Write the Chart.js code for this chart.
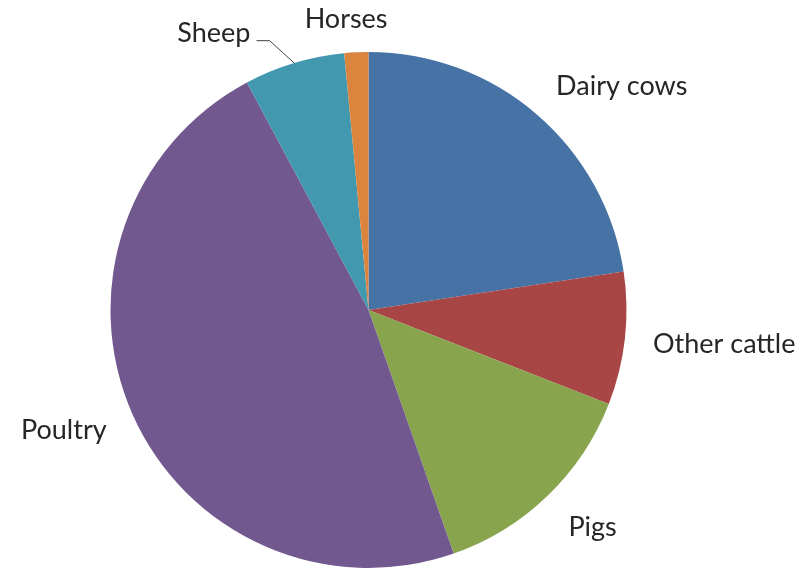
<!DOCTYPE html>
<html>
<head>
<meta charset="utf-8">
<script src="https://cdn.jsdelivr.net/npm/chart.js@4"></script>
<style>
  html,body{margin:0;padding:0;background:#fff;}
  #wrap{width:811px;height:571px;position:relative;}
</style>
</head>
<body>
<div id="wrap"><canvas id="c"></canvas></div>
<script>
/* livestock share - pie, clockwise from 12 o'clock */
const categories=['Dairy cows','Other cattle','Pigs','Poultry','Sheep','Horses'];
const shares=[22.6,8.3,13.7,47.5,6.3,1.5];
const sliceColors=['#4672A6','#A74644','#88A54E','#71588F','#4298AF','#DB843D'];

/* label placement: angle offset (deg) from slice middle, distance in radii */
const labelPlace=[[7.8,1.31],[-0.9,1.385],[-1.9,1.21],[2.1,1.27],[-12.4,1.23],[-1.7,1.13]];

const outsideLabels={
  id:'outsideLabels',
  afterDatasetsDraw(chart){
    const ctx=chart.ctx;
    const arcs=chart.getDatasetMeta(0).data;
    ctx.save();
    ctx.font='27px Lato, "Open Sans", sans-serif';
    ctx.fillStyle='#262626';
    ctx.textAlign='center';ctx.textBaseline='middle';
    arcs.forEach((a,i)=>{
      const mid=(a.startAngle+a.endAngle)/2;
      const [dA,dist]=labelPlace[i];
      const ang=mid+dA*Math.PI/180;
      const x=a.x+Math.cos(ang)*a.outerRadius*dist;
      const y=a.y+Math.sin(ang)*a.outerRadius*dist;
      ctx.fillText(categories[i],x,y);
      if(categories[i]==='Sheep'){
        // leader line: slice edge -> elbow -> label
        const ex=a.x+Math.cos(mid)*a.outerRadius, ey=a.y+Math.sin(mid)*a.outerRadius;
        const elb=mid-3.4*Math.PI/180;
        const bx=a.x+Math.cos(elb)*a.outerRadius*1.112, by=a.y+Math.sin(elb)*a.outerRadius*1.112;
        const tw=ctx.measureText(categories[i]).width;
        ctx.strokeStyle='#404040';ctx.lineWidth=1;
        ctx.beginPath();ctx.moveTo(ex,ey);ctx.lineTo(bx,by);ctx.lineTo(x+tw/2+6,by);ctx.stroke();
      }
    });
    ctx.restore();
  }
};

new Chart(document.getElementById('c'),{
  type:'pie',
  data:{labels:categories,datasets:[{data:shares,backgroundColor:sliceColors,borderWidth:0}]},
  plugins:[outsideLabels],
  options:{
    responsive:true,maintainAspectRatio:false,animation:false,
    layout:{padding:{top:52,bottom:3,left:110.5,right:184.5}},
    plugins:{legend:{display:false},tooltip:{enabled:false}}
  }
});
</script>
</body>
</html>
